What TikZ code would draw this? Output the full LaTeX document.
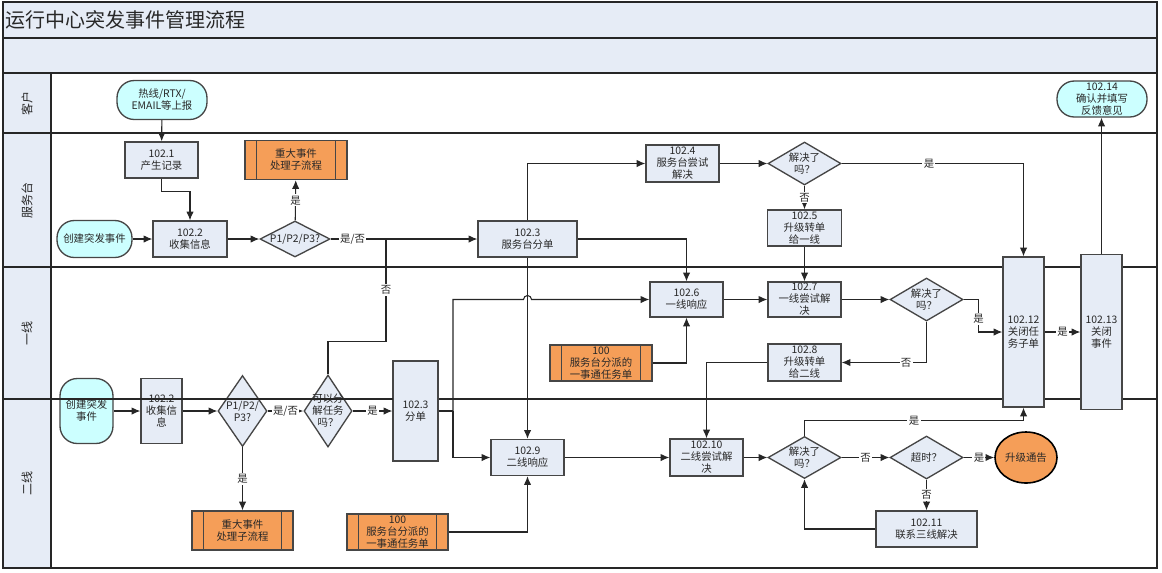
\documentclass[tikz,border=0pt]{standalone}
\usepackage{fontspec}
\setmainfont{Noto Sans CJK SC}
\usetikzlibrary{shapes.geometric,arrows.meta,calc}
\definecolor{boxfill}{RGB}{230,236,246}
\definecolor{hdrfill}{RGB}{230,236,246}
\definecolor{orng}{RGB}{245,158,88}
\definecolor{cyanfill}{RGB}{204,255,255}
\definecolor{edge}{RGB}{70,70,70}
\definecolor{txt}{RGB}{40,40,40}
\tikzset{
 wh/.style 2 args={minimum width=#1*0.75pt,minimum height=#2*0.75pt},
 base/.style={font=\fontsize{7.8}{9}\selectfont, text=txt, align=center, inner sep=0pt},
 proc/.style={base, draw=edge, line width=1pt, fill=boxfill},
 term/.style={base, draw=edge, line width=1pt, fill=cyanfill, rounded corners=13pt},
 subp/.style={base, draw=edge, line width=1pt, fill=orng},
 dia/.style={base, draw=edge, line width=1pt, fill=boxfill, diamond, shape aspect=1},
 dtext/.style={label={[base]center:#1}},
 circ/.style={base, draw=black, line width=1.2pt, fill=orng, ellipse},
 conn/.style={draw=black!85, line width=0.8pt},
 arr/.style={conn, -{Latex[length=6.5pt,width=5.5pt]}},
 lbl/.style={base, fill=white, inner sep=1pt},
 lane/.style={draw=black!85, line width=1.1pt},
 lanetxt/.style={font=\fontsize{9}{10}\selectfont, text=txt, rotate=90, inner sep=0pt},
}
\begin{document}
\begin{tikzpicture}[x=0.75pt,y=-0.75pt]
\useasboundingbox (0,0) rectangle (1162,572);
% background and lanes
\fill[hdrfill] (3,2) rectangle (1157,73);
\fill[hdrfill] (3,73) rectangle (51,568);
\draw[lane] (3,2) rectangle (1157,568);
\draw[lane] (3,38) -- (1157,38);
\draw[lane] (3,73) -- (1157,73);
\draw[lane] (3,133) -- (1157,133);
\draw[lane] (3,267) -- (1157,267);
\draw[lane] (3,399) -- (1157,399);
\draw[lane] (51,73) -- (51,568);
\node[anchor=west, font=\fontsize{15}{17}\selectfont, text=txt, inner sep=0pt] (title) at (5,20) {运行中心突发事件管理流程};
\node[lanetxt] (l1) at (27,103) {客户};
\node[lanetxt] (l2) at (27,200) {服务台};
\node[lanetxt] (l3) at (27,333) {一线};
\node[lanetxt] (l4) at (27,483) {二线};

% customer lane
\node[term, wh={90}{39}] (rep) at (162,100) {热线/RTX/\\EMAIL等上报};
\node[term, wh={90}{36}] (n14) at (1102,99) {102.14\\确认并填写\\反馈意见};

% service desk lane
\node[proc, wh={73}{36}] (n1) at (161.5,160) {102.1\\产生记录};
\node[subp, wh={102}{39}] (s1) at (296,160) {重大事件\\处理子流程};
\node[term, wh={75}{37}] (c1) at (94.5,239) {创建突发事件};
\node[proc, wh={74}{36}] (n2) at (190,239) {102.2\\收集信息};
\node[dia, wh={70}{36}, dtext={P1/P2/P3?}] (p1) at (295,239) {};
\node[proc, wh={99}{36}] (n3) at (527.5,239) {102.3\\服务台分单};
\node[proc, wh={73}{37}] (n4) at (682.5,163.5) {102.4\\服务台尝试\\解决};
\node[dia, wh={73}{43}, dtext={解决了\\吗？}] (q1) at (804.5,163.5) {};
\node[proc, wh={74}{36}] (n5) at (804.5,228) {102.5\\升级转单\\给一线};

% first line lane
\node[proc, wh={73}{35}] (n6) at (686.5,299.5) {102.6\\一线响应};
\node[proc, wh={73}{35}] (n7) at (804.5,299.5) {102.7\\一线尝试解\\决};
\node[dia, wh={73}{43}, dtext={解决了\\吗？}] (q2) at (926.5,299.5) {};
\node[subp, wh={102}{36}] (o1) at (601,363) {100\\服务台分派的\\一事通任务单};
\node[proc, wh={73}{37}] (n8) at (804.5,362.5) {102.8\\升级转单\\给二线};
\node[proc, wh={41}{150}] (n12) at (1023.5,332) {102.12\\关闭任\\务子单};
\node[proc, wh={41}{155}] (n13) at (1101.5,332) {102.13\\关闭\\事件};

% second line lane
\node[term, wh={53}{65}] (c2) at (86.5,411) {创建突发\\事件};
\node[proc, wh={41}{65}] (m2) at (161.5,411) {102.2\\收集信\\息};
\node[dia, wh={49}{71}, dtext={P1/P2/\\P3?}] (p2) at (242.5,411) {};
\node[dia, wh={48}{72}, dtext={可以分\\解任务\\吗？}] (dv) at (328,411) {};
\node[proc, wh={45}{100}] (fd) at (415.5,411) {102.3\\分单};
\node[subp, wh={101}{39}] (s2) at (242.5,530.5) {重大事件\\处理子流程};
\node[subp, wh={101}{36}] (o2) at (397.5,532) {100\\服务台分派的\\一事通任务单};
\node[proc, wh={73}{36}] (n9) at (527.5,457.5) {102.9\\二线响应};
\node[proc, wh={73}{37}] (n10) at (706.5,457.5) {102.10\\二线尝试解\\决};
\node[dia, wh={73}{42}, dtext={解决了\\吗？}] (q3) at (804.5,457.5) {};
\node[dia, wh={73}{43}, dtext={超时？}] (to) at (926.5,457.5) {};
\node[circ, wh={62}{51}] (up) at (1026,457.5) {升级通告};
\node[proc, wh={101}{36}] (n11) at (926.5,529) {102.11\\联系三线解决};

% subprocess inner bars
\foreach \n in {s1,s2,o1,o2}{
  \draw[draw=edge, line width=1pt] ([xshift=9pt]\n.north west) -- ([xshift=9pt]\n.south west);
  \draw[draw=edge, line width=1pt] ([xshift=-9pt]\n.north east) -- ([xshift=-9pt]\n.south east);
}

% lane line drawn over the left nodes
\draw[lane] (51,399) -- (393,399);

% connectors
\coordinate (j1) at (386,239);
\coordinate (j2) at (453,411);
\coordinate (jmp) at (527.5,299.5);
\draw[arr] (rep) -- (n1);
\draw[arr] (n1.south) -- ++(0,13) -| (n2.north);
\draw[arr] (c1) -- (n2);
\draw[arr] (n2) -- (p1);
\draw[arr] (p1) -- node[lbl]{是} (s1);
\draw[arr] (p1.east) -- node[lbl,pos=0.15]{是/否} (n3.west);
\draw[conn] (dv.north) -- ++(0,-33) -| node[lbl,pos=0.75]{否} (j1);
\draw[arr] (n3.north) |- (n4.west);
\draw[arr] (n4) -- (q1);
\draw[arr] (q1.east) -| node[lbl,pos=0.24]{是} (n12.north);
\draw[arr] (q1) -- node[lbl]{否} (n5);
\draw[arr] (n5) -- (n7);
\draw[arr] (n3.east) -| (n6.north);
\draw[arr] (n3.south) -- (n9.north);
\draw[conn] (fd.east) -- (j2);
\draw[arr] (j2) |- (n9.west);
\draw[arr] (j2) |- ([xshift=-3pt]jmp) arc[start angle=180,end angle=0,radius=3pt] -- (n6.west);
\draw[arr] (o1.east) -| (n6.south);
\draw[arr] (o2.east) -| (n9.south);
\draw[arr] (n6) -- (n7);
\draw[arr] (n7) -- (q2);
\draw[arr] (q2.east) -- ++(15,0) |- node[lbl,pos=0.3]{是} (n12.west);
\draw[arr] (q2.south) |- node[lbl,pos=0.62]{否} (n8.east);
\draw[arr] (n8.west) -| (n10.north);
\draw[arr] (n9) -- (n10);
\draw[arr] (n10) -- (q3);
\draw[arr] (q3.north) -- ++(0,-15) -| node[lbl,pos=0.25]{是} (n12.south);
\draw[arr] (q3) -- node[lbl]{否} (to);
\draw[arr] (to) -- node[lbl]{是} (up);
\draw[arr] (to) -- node[lbl]{否} (n11);
\draw[arr] (n11.west) -| (q3.south);
\draw[arr] (n12) -- node[lbl]{是} (n13);
\draw[arr] (n13.north) -- (n13.north |- n14.south);
\draw[arr] (c2) -- (m2);
\draw[arr] (m2) -- (p2);
\draw[arr] (p2) -- node[lbl]{是/否} (dv);
\draw[arr] (dv) -- node[lbl]{是} (fd);
\draw[arr] (p2) -- node[lbl]{是} (s2);
\end{tikzpicture}
\end{document}
